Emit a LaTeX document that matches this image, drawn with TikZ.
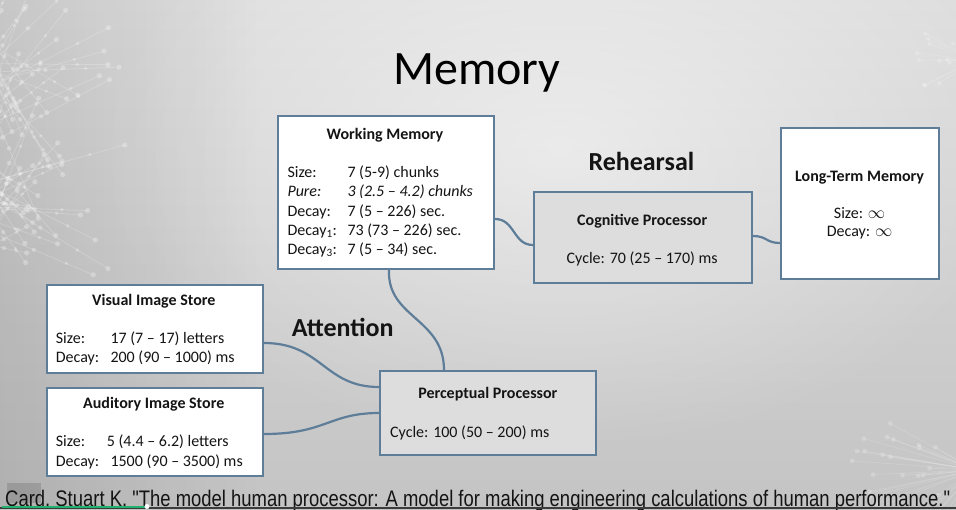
\documentclass[tikz,border=0pt]{standalone}
\usepackage{fontspec}
\usepackage{graphicx}
\setmainfont{Carlito}
\newfontfamily\narrowfont[FakeStretch=0.82]{Liberation Sans}
\usetikzlibrary{fadings}

\definecolor{edge}{HTML}{5E7D99}
\definecolor{ink}{HTML}{141414}
\definecolor{boxgray}{HTML}{DDDDDD}
\definecolor{bgtop}{HTML}{DEDEDE}
\definecolor{bgbottom}{HTML}{C4C4C4}
\definecolor{stripdark}{HTML}{3C3C3C}
\definecolor{progress}{HTML}{23B26E}

\tikzfading[name=glow, inner color=transparent!0, outer color=transparent!100]
\tikzfading[name=leftshade, left color=transparent!0, right color=transparent!100]

\tikzset{
  panel/.style={draw=edge, line width=2pt, fill=white, inner sep=0pt, anchor=north west},
  graypanel/.style={panel, fill=boxgray},
  head/.style={font=\bfseries\fontsize{16}{19}\selectfont, anchor=base, inner sep=0pt, text=ink},
  body/.style={font=\fontsize{16}{19}\selectfont, anchor=base west, inner sep=0pt, text=ink},
  bodyc/.style={body, anchor=base},
  flowlabel/.style={font=\bfseries\fontsize{26}{30}\selectfont, anchor=base west, inner sep=0pt, text=ink},
  link/.style={draw=edge, line width=2.2pt},
  synapse/.style={draw=white, opacity=0.2, line width=0.8pt},
  neuron/.style={fill=white, opacity=0.28},
}

\begin{document}
\begin{tikzpicture}[x=1pt, y=-1pt]
\useasboundingbox (0,0) rectangle (956,509);

% ---- slide background ----
\begin{scope}
  \clip (0,0) rectangle (956,509);
  \shade[top color=bgtop, bottom color=bgbottom] (0,0) rectangle (956,509);
  \fill[white, opacity=0.5, path fading=glow] (560,150) ellipse [x radius=470pt, y radius=300pt];
  \fill[black, opacity=0.10, path fading=leftshade] (0,0) rectangle (260,509);

  % faint network ornament, left edge
  \pgfmathsetseed{17}
  \foreach \k in {1,...,60} {
    \pgfmathsetmacro\ang{rnd*150-75}
    \pgfmathsetmacro\len{40+rnd*105}
    \pgfmathsetmacro\cy{30+rnd*220}
    \draw[synapse] (-15,\cy) -- ++(\ang:\len) coordinate (tip);
    \fill[neuron] (tip) circle (2.6pt);
    \fill[neuron] (-15,\cy) ++(\ang:0.45*\len) circle (2.2pt);
    \fill[neuron] (-15,\cy) ++(\ang:0.75*\len) circle (1.8pt);
  }
  % faint network ornament, lower right corner
  \foreach \k in {1,...,30} {
    \pgfmathsetmacro\ang{100+rnd*110}
    \pgfmathsetmacro\len{40+rnd*85}
    \draw[synapse, opacity=0.14] (975,470) -- ++(\ang:\len) coordinate (tip);
    \fill[neuron, opacity=0.2] (tip) circle (2.4pt);
  }
  % faint network ornament, upper right corner
  \foreach \k in {1,...,12} {
    \pgfmathsetmacro\ang{140+rnd*80}
    \pgfmathsetmacro\len{20+rnd*40}
    \draw[synapse, opacity=0.14] (975,60) -- ++(\ang:\len) coordinate (tip);
    \fill[neuron, opacity=0.2] (tip) circle (2pt);
  }
\end{scope}

% ---- title ----
\node[font=\fontsize{48}{56}\selectfont, anchor=base, inner sep=0pt, text=black] (title) at (477,84) {Memory};

% ---- boxes ----
\node[panel, minimum width=216pt, minimum height=153pt] (wm) at (277,115) {};
\node[graypanel, minimum width=218pt, minimum height=91pt] (cog) at (533,191) {};
\node[panel, minimum width=158pt, minimum height=151pt] (ltm) at (780,127) {};
\node[panel, minimum width=216pt, minimum height=88pt] (vis) at (46,284) {};
\node[panel, minimum width=216pt, minimum height=88pt] (aud) at (46,387) {};
\node[graypanel, minimum width=216pt, minimum height=84pt] (pp) at (379,370) {};

% ---- connectors ----
\draw[link] ([xshift=3pt]wm.south) .. controls +(-2,48) and +(0,-52) .. ([xshift=-44pt]pp.north);
\draw[link] ([yshift=-26.5pt]wm.east) .. controls +(20,0) and +(-20,0) .. ([yshift=-7.5pt]cog.west);
\draw[link] ([yshift=1.5pt]cog.east) .. controls +(14,0) and +(-14,0) .. ([yshift=-39.5pt]ltm.west);
\draw[link] ([yshift=-14pt]vis.east) .. controls +(58,0) and +(-55,0) .. ([yshift=26pt]pp.west);
\draw[link] ([yshift=-2pt]aud.east) .. controls +(62,0) and +(-50,0) .. (pp.west);

% ---- working memory ----
\node[head] (wmT) at (385,139.3) {Working Memory};
\node[body] (wmL1) at (287.3,177.5) {Size:};
\node[body] (wmV1) at (347.3,177.5) {7 (5-9) chunks};
\node[body, font=\itshape\fontsize{16}{19}\selectfont] (wmL2) at (287.3,196.8) {Pure:};
\node[body, font=\itshape\fontsize{16}{19}\selectfont] (wmV2) at (347.3,196.8) {3 (2.5 – 4.2) chunks};
\node[body] (wmL3) at (287.3,216) {Decay:};
\node[body] (wmV3) at (347.3,216) {7 (5 – 226) sec.};
\node[body] (wmL4) at (287.3,235.2) {Decay\textsubscript{1}:};
\node[body] (wmV4) at (347.3,235.2) {73 (73 – 226) sec.};
\node[body] (wmL5) at (287.3,254.4) {Decay\textsubscript{3}:};
\node[body] (wmV5) at (347.3,254.4) {7 (5 – 34) sec.};

% ---- cognitive processor ----
\node[head] (cogT) at (642.2,225) {Cognitive Processor};
\node[bodyc] (cogV) at (642.2,263.3) {Cycle: 70 (25 – 170) ms};

% ---- long-term memory ----
\node[head] (ltmT) at (859.6,181) {Long-Term Memory};
\node[bodyc] (ltmV1) at (859.6,218.3) {Size: $\infty$};
\node[bodyc] (ltmV2) at (859.6,236.7) {Decay: $\infty$};

% ---- visual image store ----
\node[head] (visT) at (153.8,305) {Visual Image Store};
\node[body] (visL1) at (55.7,343.3) {Size:};
\node[body] (visV1) at (110.3,343.3) {17 (7 – 17) letters};
\node[body] (visL2) at (55.7,362.7) {Decay:};
\node[body] (visV2) at (110.3,362.7) {200 (90 – 1000) ms};

% ---- auditory image store ----
\node[head] (audT) at (153.7,408.3) {Auditory Image Store};
\node[body] (audL1) at (55.7,446.7) {Size:};
\node[body] (audV1) at (106.7,446.7) {5 (4.4 – 6.2) letters};
\node[body] (audL2) at (55.7,466) {Decay:};
\node[body] (audV2) at (110.3,466) {1500 (90 – 3500) ms};

% ---- perceptual processor ----
\node[head] (ppT) at (487.8,398.3) {Perceptual Processor};
\node[body] (ppV) at (390,437.7) {Cycle: 100 (50 – 200) ms};

% ---- flow labels ----
\node[flowlabel] (rehearsal) at (588.3,170.7) {Rehearsal};
\node[flowlabel] (attention) at (291.7,336.7) {Attention};

% ---- footer ----
\fill[black, opacity=0.13] (7,483) rectangle (41,503);
\begin{scope}
  \clip (0,0) rectangle (956,509);
  \node[anchor=base west, inner sep=0pt, text=ink] (cite) at (5,506)
    {\resizebox{945pt}{!}{\narrowfont\fontsize{21.5}{24}\selectfont Card, Stuart K. "The model human processor: A model for making engineering calculations of human performance."}};
  \fill[stripdark] (0,506.5) rectangle (956,509);
  \fill[progress] (2,505.5) rectangle (147,507.5);
  \fill[white] (147,506.5) circle (2.5pt);
\end{scope}
\end{tikzpicture}
\end{document}
